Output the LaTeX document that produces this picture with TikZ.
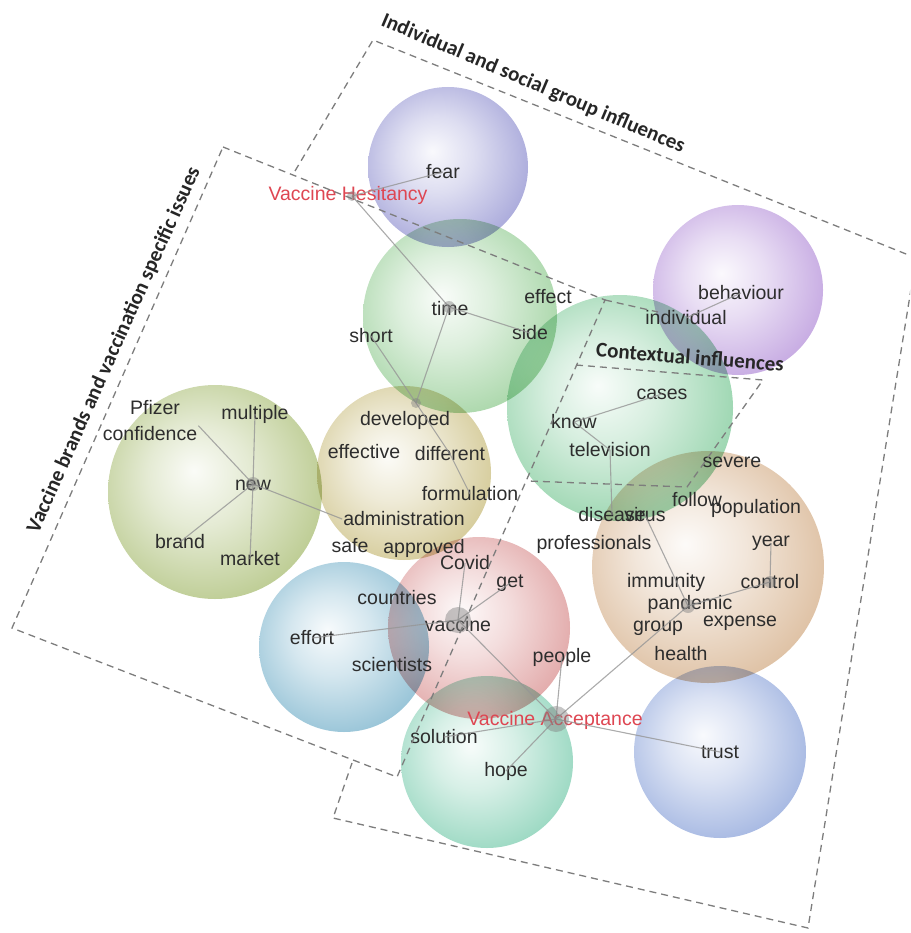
\documentclass[tikz,border=0pt]{standalone}
\usepackage{fontspec}
\setmainfont{Liberation Sans}
\newfontfamily\labfont{Carlito}
\usetikzlibrary{calc}

\definecolor{cFear}{RGB}{134,134,204}
\definecolor{cTime}{RGB}{134,198,134}
\definecolor{cBeh}{RGB}{174,134,214}
\definecolor{cCtx}{RGB}{112,196,142}
\definecolor{cNew}{RGB}{160,182,100}
\definecolor{cDev}{RGB}{196,182,112}
\definecolor{cVac}{RGB}{214,134,134}
\definecolor{cEff}{RGB}{106,170,198}
\definecolor{cImm}{RGB}{208,166,124}
\definecolor{cSol}{RGB}{112,200,168}
\definecolor{cTru}{RGB}{128,154,214}
\definecolor{txtgray}{RGB}{45,45,45}
\definecolor{redlab}{RGB}{222,70,82}
\definecolor{dashgray}{RGB}{125,125,125}
\definecolor{linkgray}{RGB}{150,150,150}

\colorlet{sphc}{cFear}
\pgfdeclareradialshading[sphc]{sphere}{\pgfpoint{-5bp}{5bp}}{%
  color(0bp)=(sphc!5!white); color(12bp)=(sphc!28!white);
  color(32bp)=(sphc!78!white); color(46bp)=(sphc); color(50bp)=(sphc)}

\newcommand\bubble[4]{\colorlet{sphc}{#4}\shade[shading=sphere] (#1,#2) circle[radius=#3];}

\tikzset{
  term/.style={font=\fontsize{19.5}{20}\selectfont, text=txtgray, inner sep=1pt},
  redterm/.style={font=\fontsize{19.5}{20}\selectfont, text=redlab, inner sep=1pt},
  zone/.style={font=\labfont\bfseries\fontsize{21}{22}\selectfont, text=black!85, inner sep=1pt},
  boundary/.style={draw=dashgray, line width=1.3pt, dash pattern=on 7pt off 5pt},
  link/.style={draw=linkgray, line width=1.1pt, opacity=0.8},
  hub/.style={fill=gray, opacity=0.45}
}

\begin{document}
\begin{tikzpicture}[x=1pt, y=-1pt]
\useasboundingbox (0,0) rectangle (910,933);
\clip (0,0) rectangle (910,933);

% concept spheres
\begin{scope}[blend group=multiply]
  \bubble{448}{167}{80}{cFear}
  \bubble{460}{316}{97}{cTime}
  \bubble{738}{290}{85}{cBeh}
  \bubble{620}{408}{113}{cCtx}
  \bubble{215}{492}{107}{cNew}
  \bubble{404}{473}{87}{cDev}
  \bubble{479}{628}{91}{cVac}
  \bubble{344}{647}{85}{cEff}
  \bubble{708}{567}{116}{cImm}
  \bubble{487}{762}{86}{cSol}
  \bubble{720}{752}{86}{cTru}
\end{scope}

% hub points
\coordinate (hHes) at (352,196);
\coordinate (hTime) at (449,307);
\coordinate (hDev) at (416,403);
\coordinate (hNew) at (253,484);
\coordinate (hVac) at (458,620);
\coordinate (hAcc) at (556,719);
\coordinate (hPan) at (688,606);
\coordinate (hCtl) at (770,582);

% terms
\node[term] (fear) at (443,172) {fear};
\node[term] (time) at (450,309) {time};
\node[term] (effect) at (548,297) {effect};
\node[term] (side) at (530,333) {side};
\node[term] (short) at (371,336) {short};
\node[term] (behaviour) at (741,293) {behaviour};
\node[term] (individual) at (686,318) {individual};
\node[term] (cases) at (662,394) {cases};
\node[term] (know) at (574,422) {know};
\node[term] (television) at (610,450) {television};
\node[term] (developed) at (405,420) {developed};
\node[term] (effective) at (364,452) {effective};
\node[term] (different) at (450,454) {different};
\node[term] (formulation) at (470,494) {formulation};
\node[term] (administration) at (404,519) {administration};
\node[term] (safe) at (350,546) {safe};
\node[term] (approved) at (424,548) {approved};
\node[term] (pfizer) at (155,408) {Pfizer};
\node[term] (confidence) at (150,434) {confidence};
\node[term] (multiple) at (255,414) {multiple};
\node[term] (new) at (253,485) {new};
\node[term] (brand) at (180,542) {brand};
\node[term] (market) at (250,559) {market};
\node[term] (severe) at (732,462) {severe};
\node[term] (follow) at (697,500) {follow};
\node[term] (population) at (756,508) {population};
\node[term] (disease) at (612,515) {disease};
\node[term] (virus) at (645,515) {virus};
\node[term] (professionals) at (594,544) {professionals};
\node[term] (year) at (771,543) {year};
\node[term] (immunity) at (666,582) {immunity};
\node[term] (control) at (770,582) {control};
\node[term] (pandemic) at (690,604) {pandemic};
\node[term] (group) at (658,628) {group};
\node[term] (expense) at (740,623) {expense};
\node[term] (health) at (681,654) {health};
\node[term] (covid) at (465,563) {Covid};
\node[term] (get) at (510,583) {get};
\node[term] (countries) at (397,598) {countries};
\node[term] (vaccine) at (458,625) {vaccine};
\node[term] (effort) at (312,638) {effort};
\node[term] (scientists) at (392,665) {scientists};
\node[term] (people) at (562,657) {people};
\node[term] (solution) at (444,737) {solution};
\node[term] (hope) at (506,771) {hope};
\node[term] (trust) at (720,752) {trust};
\node[redterm] (hesitancy) at (348,195) {Vaccine Hesitancy};
\node[redterm] (acceptance) at (555,720) {Vaccine Acceptance};

% links between concepts
\path[link] (hHes) -- (fear.center);
\path[link] (hHes) -- (hTime);
\path[link] (hTime) -- (side.center);
\path[link] (hTime) -- (hDev);
\path[link] (short.center) -- (hDev);
\path[link] (hDev) -- (different.center);
\path[link] (different.center) -- (formulation.center);
\path[link] (hNew) -- (confidence.north east);
\path[link] (hNew) -- (multiple.center);
\path[link] (hNew) -- (brand.center);
\path[link] (hNew) -- (market.center);
\path[link] (hNew) -- (administration.west);
\path[link] (hVac) -- (covid.center);
\path[link] (hVac) -- (get.center);
\path[link] (hVac) -- (effort.center);
\path[link] (hVac) -- (hAcc);
\path[link] (hAcc) -- (people.center);
\path[link] (hAcc) -- (hPan);
\path[link] (hAcc) -- (trust.center);
\path[link] (hAcc) -- (hope.center);
\path[link] (hAcc) -- (solution.center);
\path[link] (virus.center) -- (hPan);
\path[link] (hPan) -- (hCtl);
\path[link] (year.center) -- (hCtl);
\path[link] (know.center) -- (cases.center);
\path[link] (know.center) -- (television.center);
\path[link] (television.center) -- (disease.center);
\path[link] (individual.center) -- (behaviour.center);

% hub blobs
\foreach \h/\r in {hHes/5, hTime/6, hDev/5, hNew/7, hVac/13, hAcc/13, hPan/7, hCtl/6}
  \fill[hub] (\h) circle[radius=\r];

% dashed zone outlines
\coordinate (a1) at (223,147);
\coordinate (a2) at (605,300);
\coordinate (a3) at (397,777);
\coordinate (a4) at (12,628);
\draw[boundary] (a1) -- (a2) -- (a3) -- (a4) -- cycle;

\coordinate (b0) at (295,171);
\coordinate (b1) at (373,40);
\coordinate (b2) at (916,258);
\coordinate (b3) at (808,928);
\coordinate (b4) at (333,818);
\coordinate (b5) at (352,763);
\draw[boundary] (b0) -- (b1) -- (b2) -- (b3) -- (b4) -- (b5);

\coordinate (c1) at (576,365);
\coordinate (c2) at (763,380);
\coordinate (c3) at (687,487);
\coordinate (c4) at (528,481);
\coordinate (c0) at (658,312);
\draw[boundary] (c1) -- (c2) -- (c3) -- (c4);
\draw[boundary] (a2) -- (c0);

% zone titles
\node[zone, rotate=-23] (zIndiv) at (533,84) {Individual and social group influences};
\node[zone, rotate=66] (zBrand) at (114,350) {Vaccine brands and vaccination specific issues};
\node[zone, rotate=-4.5] (zCtx) at (690,357) {Contextual influences};
\end{tikzpicture}
\end{document}
